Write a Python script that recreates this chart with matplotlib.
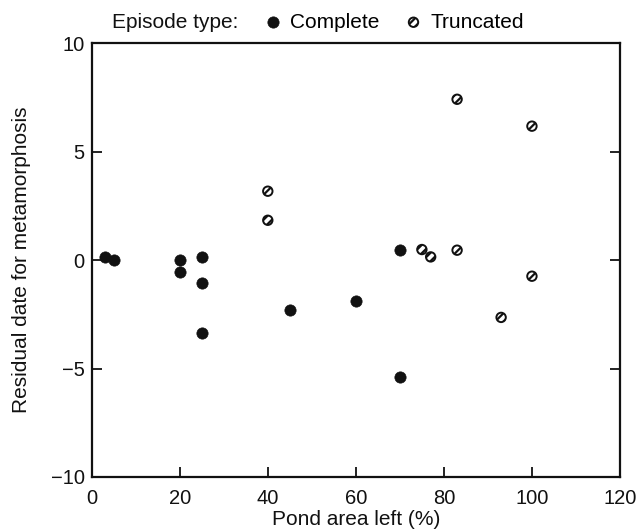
import matplotlib
matplotlib.use("Agg")
import matplotlib.pyplot as plt

plt.rcParams['font.family'] = ['Liberation Sans', 'DejaVu Sans']
plt.rcParams['hatch.linewidth'] = 1.6

complete_x = [3, 5, 20, 20, 25, 25, 25, 45, 60, 70, 70]
complete_y = [0.15, 0.0, 0.0, -0.54, 0.15, -1.07, -3.35, -2.32, -1.89, 0.46, -5.38]

truncated_x = [40, 40, 83, 100, 75, 77, 83, 100, 93]
truncated_y = [3.18, 1.84, 7.42, 6.18, 0.49, 0.15, 0.46, -0.74, -2.64]

x_ticks = [0, 20, 40, 60, 80, 100, 120]
y_ticks = [-10, -5, 0, 5, 10]

fig = plt.figure(figsize=(6.36, 5.29), dpi=100)
ax = fig.add_axes([0.1442, 0.0983, 0.9748 - 0.1442, 0.9181 - 0.0983])

hc = ax.scatter(complete_x, complete_y, s=66, c='#111111', edgecolors='#111111',
                linewidths=0.5, zorder=3, label='Complete')
ht = ax.scatter(truncated_x, truncated_y, s=46, facecolors='white', edgecolors='#111111',
                linewidths=1.4, hatch='////', zorder=3, label='Truncated')

ax.set_xlim(0, 120)
ax.set_ylim(-10, 10)
ax.set_xticks(x_ticks)
ax.set_yticks(y_ticks)
ax.tick_params(axis='both', direction='in', length=7, width=1.3, labelsize=14.5,
               colors='#111111')
ax.tick_params(axis='x', pad=9)
ax.tick_params(axis='y', right=True, pad=5)
for sp in ax.spines.values():
    sp.set_linewidth(1.6)
    sp.set_color('#111111')

ax.set_xlabel('Pond area left (%)', fontsize=15, labelpad=1, color='#111111')
ax.set_ylabel('Residual date for metamorphosis', fontsize=15, labelpad=14, color='#111111')

fig.text(0.176, 0.958, 'Episode type:', fontsize=15, va='center', ha='left', color='#111111')
leg = fig.legend(handles=[hc, ht], ncol=2, loc='center left',
                 bbox_to_anchor=(0.413, 0.958), frameon=False, fontsize=15,
                 handletextpad=0.3, columnspacing=1.15, handlelength=1.0,
                 borderaxespad=0, borderpad=0)

fig.savefig('out.png', dpi=100)
